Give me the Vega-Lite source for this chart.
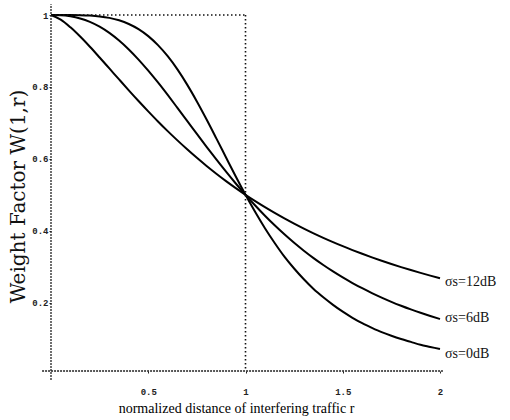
{
  "$schema": "https://vega.github.io/schema/vega-lite/v6.json",
  "width": 389,
  "height": 356,
  "autosize": "none",
  "padding": {"left": 51, "top": 15, "right": 70, "bottom": 49},
  "background": "white",
  "config": {"view": {"stroke": null}},
  "datasets": {
    "curves": [
      {"s": "0dB", "r": 0, "w": 1}, {"s": "0dB", "r": 0.05, "w": 1}, {"s": "0dB", "r": 0.1, "w": 0.9999}, {"s": "0dB", "r": 0.15, "w": 0.9995}, {"s": "0dB", "r": 0.2, "w": 0.9984}, {"s": "0dB", "r": 0.25, "w": 0.9961}, {"s": "0dB", "r": 0.3, "w": 0.992}, {"s": "0dB", "r": 0.35, "w": 0.9852}, {"s": "0dB", "r": 0.4, "w": 0.975}, {"s": "0dB", "r": 0.45, "w": 0.9607}, {"s": "0dB", "r": 0.5, "w": 0.9412}, {"s": "0dB", "r": 0.55, "w": 0.9161}, {"s": "0dB", "r": 0.6, "w": 0.8853}, {"s": "0dB", "r": 0.65, "w": 0.8487}, {"s": "0dB", "r": 0.7, "w": 0.8064}, {"s": "0dB", "r": 0.75, "w": 0.7596}, {"s": "0dB", "r": 0.8, "w": 0.7094}, {"s": "0dB", "r": 0.85, "w": 0.657}, {"s": "0dB", "r": 0.9, "w": 0.6038}, {"s": "0dB", "r": 0.95, "w": 0.5508}, {"s": "0dB", "r": 1, "w": 0.5}, {"s": "0dB", "r": 1.05, "w": 0.452}, {"s": "0dB", "r": 1.1, "w": 0.407}, {"s": "0dB", "r": 1.15, "w": 0.366}, {"s": "0dB", "r": 1.2, "w": 0.328}, {"s": "0dB", "r": 1.25, "w": 0.295}, {"s": "0dB", "r": 1.3, "w": 0.265}, {"s": "0dB", "r": 1.35, "w": 0.238}, {"s": "0dB", "r": 1.4, "w": 0.215}, {"s": "0dB", "r": 1.45, "w": 0.194}, {"s": "0dB", "r": 1.5, "w": 0.175}, {"s": "0dB", "r": 1.55, "w": 0.158}, {"s": "0dB", "r": 1.6, "w": 0.143}, {"s": "0dB", "r": 1.65, "w": 0.13}, {"s": "0dB", "r": 1.7, "w": 0.118}, {"s": "0dB", "r": 1.75, "w": 0.108}, {"s": "0dB", "r": 1.8, "w": 0.099}, {"s": "0dB", "r": 1.85, "w": 0.091}, {"s": "0dB", "r": 1.9, "w": 0.083}, {"s": "0dB", "r": 1.95, "w": 0.077}, {"s": "0dB", "r": 2, "w": 0.071},
      {"s": "6dB", "r": 0, "w": 1}, {"s": "6dB", "r": 0.05, "w": 0.9994}, {"s": "6dB", "r": 0.1, "w": 0.9965}, {"s": "6dB", "r": 0.15, "w": 0.9905}, {"s": "6dB", "r": 0.2, "w": 0.981}, {"s": "6dB", "r": 0.25, "w": 0.9676}, {"s": "6dB", "r": 0.3, "w": 0.9503}, {"s": "6dB", "r": 0.35, "w": 0.929}, {"s": "6dB", "r": 0.4, "w": 0.9042}, {"s": "6dB", "r": 0.45, "w": 0.8761}, {"s": "6dB", "r": 0.5, "w": 0.8453}, {"s": "6dB", "r": 0.55, "w": 0.8123}, {"s": "6dB", "r": 0.6, "w": 0.7776}, {"s": "6dB", "r": 0.65, "w": 0.7418}, {"s": "6dB", "r": 0.7, "w": 0.7056}, {"s": "6dB", "r": 0.75, "w": 0.6693}, {"s": "6dB", "r": 0.8, "w": 0.6334}, {"s": "6dB", "r": 0.85, "w": 0.5983}, {"s": "6dB", "r": 0.9, "w": 0.5642}, {"s": "6dB", "r": 0.95, "w": 0.5314}, {"s": "6dB", "r": 1, "w": 0.5}, {"s": "6dB", "r": 1.05, "w": 0.4702}, {"s": "6dB", "r": 1.1, "w": 0.4419}, {"s": "6dB", "r": 1.15, "w": 0.4153}, {"s": "6dB", "r": 1.2, "w": 0.3902}, {"s": "6dB", "r": 1.25, "w": 0.3666}, {"s": "6dB", "r": 1.3, "w": 0.3446}, {"s": "6dB", "r": 1.35, "w": 0.324}, {"s": "6dB", "r": 1.4, "w": 0.3048}, {"s": "6dB", "r": 1.45, "w": 0.2869}, {"s": "6dB", "r": 1.5, "w": 0.2702}, {"s": "6dB", "r": 1.55, "w": 0.2547}, {"s": "6dB", "r": 1.6, "w": 0.2402}, {"s": "6dB", "r": 1.65, "w": 0.2267}, {"s": "6dB", "r": 1.7, "w": 0.2142}, {"s": "6dB", "r": 1.75, "w": 0.2024}, {"s": "6dB", "r": 1.8, "w": 0.1915}, {"s": "6dB", "r": 1.85, "w": 0.1813}, {"s": "6dB", "r": 1.9, "w": 0.1718}, {"s": "6dB", "r": 1.95, "w": 0.163}, {"s": "6dB", "r": 2, "w": 0.1547},
      {"s": "12dB", "r": 0, "w": 1}, {"s": "12dB", "r": 0.05, "w": 0.9872}, {"s": "12dB", "r": 0.1, "w": 0.9657}, {"s": "12dB", "r": 0.15, "w": 0.94}, {"s": "12dB", "r": 0.2, "w": 0.9117}, {"s": "12dB", "r": 0.25, "w": 0.8818}, {"s": "12dB", "r": 0.3, "w": 0.8514}, {"s": "12dB", "r": 0.35, "w": 0.8209}, {"s": "12dB", "r": 0.4, "w": 0.7906}, {"s": "12dB", "r": 0.45, "w": 0.7609}, {"s": "12dB", "r": 0.5, "w": 0.7321}, {"s": "12dB", "r": 0.55, "w": 0.704}, {"s": "12dB", "r": 0.6, "w": 0.6771}, {"s": "12dB", "r": 0.65, "w": 0.6513}, {"s": "12dB", "r": 0.7, "w": 0.6265}, {"s": "12dB", "r": 0.75, "w": 0.6028}, {"s": "12dB", "r": 0.8, "w": 0.5802}, {"s": "12dB", "r": 0.85, "w": 0.5587}, {"s": "12dB", "r": 0.9, "w": 0.5381}, {"s": "12dB", "r": 0.95, "w": 0.5186}, {"s": "12dB", "r": 1, "w": 0.5}, {"s": "12dB", "r": 1.05, "w": 0.4823}, {"s": "12dB", "r": 1.1, "w": 0.4655}, {"s": "12dB", "r": 1.15, "w": 0.4495}, {"s": "12dB", "r": 1.2, "w": 0.4343}, {"s": "12dB", "r": 1.25, "w": 0.4198}, {"s": "12dB", "r": 1.3, "w": 0.406}, {"s": "12dB", "r": 1.35, "w": 0.3929}, {"s": "12dB", "r": 1.4, "w": 0.3804}, {"s": "12dB", "r": 1.45, "w": 0.3685}, {"s": "12dB", "r": 1.5, "w": 0.3571}, {"s": "12dB", "r": 1.55, "w": 0.3463}, {"s": "12dB", "r": 1.6, "w": 0.3359}, {"s": "12dB", "r": 1.65, "w": 0.326}, {"s": "12dB", "r": 1.7, "w": 0.3166}, {"s": "12dB", "r": 1.75, "w": 0.3076}, {"s": "12dB", "r": 1.8, "w": 0.2989}, {"s": "12dB", "r": 1.85, "w": 0.2907}, {"s": "12dB", "r": 1.9, "w": 0.2828}, {"s": "12dB", "r": 1.95, "w": 0.2752}, {"s": "12dB", "r": 2, "w": 0.268}
    ],
    "axislines": [
      {"r": -0.046, "r2": 2.015, "w": 0.01, "w2": 0.01},
      {"r": 0, "r2": 0, "w": -0.015, "w2": 1.03}
    ],
    "frame": [
      {"r": 0, "r2": 1, "w": 1, "w2": 1},
      {"r": 1, "r2": 1, "w": 1, "w2": 0.012}
    ],
    "labels": [
      {"r": 2, "w": 0.257, "t": "σs=12dB"},
      {"r": 2, "w": 0.157, "t": "σs=6dB"},
      {"r": 2, "w": 0.057, "t": "σs=0dB"}
    ]
  },
  "layer": [
    {
      "data": {"name": "curves"},
      "mark": {"type": "line", "color": "black", "strokeWidth": 2, "interpolate": "monotone"},
      "encoding": {
        "x": {
          "field": "r", "type": "quantitative",
          "scale": {"domain": [0, 2], "nice": false, "zero": false},
          "axis": {
            "values": [0.5, 1, 1.5, 2], "format": "~g", "domain": false, "grid": false,
            "tickSize": 2, "tickColor": "#222", "labelPadding": 14, "labelFlush": false,
            "labelFont": "Liberation Mono", "labelFontSize": 9, "labelFontWeight": "bold", "labelColor": "#222",
            "title": "normalized distance of interfering traffic r",
            "titleFont": "Liberation Serif", "titleFontSize": 14, "titleFontWeight": "normal",
            "titleColor": "#000", "titleX": 185, "titleY": 37, "titleAlign": "center", "titleBaseline": "middle"
          }
        },
        "y": {
          "field": "w", "type": "quantitative",
          "scale": {"domain": [0.01, 1], "nice": false, "zero": false},
          "axis": {
            "values": [0.2, 0.4, 0.6, 0.8, 1], "format": "~g", "domain": false, "grid": false,
            "tickSize": 2, "tickColor": "#222", "labelPadding": 1, "labelFlush": false,
            "labelFont": "Liberation Mono", "labelFontSize": 9, "labelFontWeight": "bold", "labelColor": "#222",
            "title": "Weight Factor W(1,r)",
            "titleFont": "DejaVu Serif", "titleFontSize": 20, "titleFontWeight": "normal",
            "titleColor": "#111", "titleX": -33, "titleY": 181, "titleAngle": 270,
            "titleAlign": "center", "titleBaseline": "middle"
          }
        },
        "detail": {"field": "s", "type": "nominal"}
      }
    },
    {
      "data": {"name": "axislines"},
      "mark": {"type": "rule", "color": "#222", "strokeWidth": 1.3, "strokeDash": [2, 1]},
      "encoding": {
        "x": {"field": "r", "type": "quantitative"},
        "x2": {"field": "r2"},
        "y": {"field": "w", "type": "quantitative"},
        "y2": {"field": "w2"}
      }
    },
    {
      "data": {"name": "frame"},
      "mark": {"type": "rule", "color": "#111", "strokeWidth": 1.6, "strokeDash": [1.5, 2.5]},
      "encoding": {
        "x": {"field": "r", "type": "quantitative"},
        "x2": {"field": "r2"},
        "y": {"field": "w", "type": "quantitative"},
        "y2": {"field": "w2"}
      }
    },
    {
      "data": {"name": "labels"},
      "mark": {"type": "text", "align": "left", "baseline": "middle", "dx": 5, "font": "Liberation Serif", "fontSize": 14, "color": "#111"},
      "encoding": {
        "x": {"field": "r", "type": "quantitative"},
        "y": {"field": "w", "type": "quantitative"},
        "text": {"field": "t"}
      }
    }
  ]
}
